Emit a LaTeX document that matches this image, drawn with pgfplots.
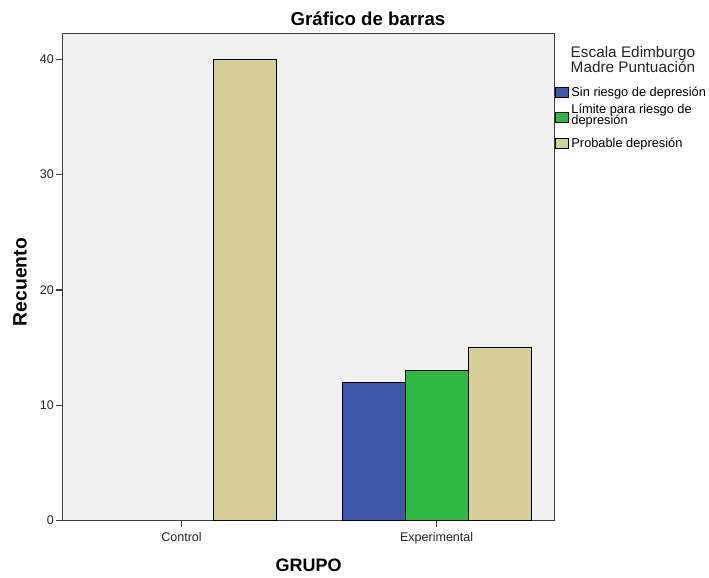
\documentclass[border=0pt]{standalone}
\usepackage{pgfplots}
\pgfplotsset{compat=1.18}
\usepackage{fontspec}
\setmainfont{Liberation Sans}
\definecolor{spssblue}{RGB}{61,88,171}
\definecolor{spssgreen}{RGB}{45,184,67}
\definecolor{spsstan}{RGB}{213,206,153}
\definecolor{plotbg}{RGB}{240,240,240}
% legend squares
\pgfplotsset{
    sqhigh/.style={legend image code/.code={\draw[##1, draw=black, line width=0.6pt] (0pt,-3.5pt) rectangle (9.75pt,4pt);}},
    sqlow/.style={legend image code/.code={\draw[##1, draw=black, line width=0.6pt] (0pt,-5.25pt) rectangle (9.75pt,2.25pt);}},
    sqtan/.style={legend image code/.code={\draw[##1, draw=black, line width=0.6pt] (0pt,-5.75pt) rectangle (9.75pt,1.75pt);}},
}
\begin{document}
\begin{tikzpicture}
% page = 709 x 577 px, 1 px = 0.75pt
\useasboundingbox (-47pt,-42.4pt) rectangle (484.7pt,390.4pt);
\begin{axis}[
    at={(0,0)}, anchor=south west,
    scale only axis,
    width=369pt, height=365.25pt,
    xmin=-0.466, xmax=1.463,
    ymin=0, ymax=42.24,
    clip=false,
    axis background/.style={fill=plotbg},
    axis line style={black!75, line width=1.1pt},
    xtick={0,1}, xticklabels={Control, Experimental},
    ytick={0,10,20,30,40},
    tick style={black!75, line width=0.9pt},
    major tick length=5pt,
    tick align=outside,
    xtick pos=bottom, ytick pos=left,
    ticklabel style={font=\fontsize{9.4}{10}\selectfont, text=black!85},
    yticklabel style={inner xsep=1.5pt},
    /pgf/number format/assume math mode=true,
    xlabel={\textbf{GRUPO}},
    ylabel={\textbf{Recuento}},
    xlabel style={font=\fontsize{13.5}{15}\selectfont,
        at={(axis description cs:0.5,-0.0914)}, anchor=center},
    ylabel style={font=\fontsize{14.5}{16}\selectfont,
        at={(axis description cs:-0.0868,0.4897)}, anchor=center},
    title={\textbf{Gráfico de barras}},
    title style={font=\fontsize{14}{16}\selectfont,
        at={(axis description cs:0.6205,1.014)}, anchor=center},
    ybar, bar width=0.247,
    legend style={at={(axis description cs:1,0.8898)}, anchor=north west,
        draw=none, fill=none, inner sep=0pt,
        font=\fontsize{9.6}{9}\selectfont, row sep=3.5pt, column sep=2pt,
        nodes={align=left, inner sep=0pt}},
    legend cell align=left,
    sqhigh,
]
\addplot[fill=spssblue, draw=black, line width=0.7pt, bar shift=-0.247] coordinates {(1,12)};
\addplot[fill=spssgreen, draw=black, line width=0.7pt, bar shift=0, sqlow] coordinates {(1,13)};
\addplot[fill=spsstan, draw=black, line width=0.7pt, bar shift=0.247, sqtan] coordinates {(0,40) (1,15)};
\legend{Sin riesgo de depresión, {Límite para riesgo de\\[-1.2pt]depresión}, {\rule{0pt}{12pt}Probable depresión}}
\node[align=center, font=\fontsize{11.5}{11.25}\selectfont, text=black!85]
    at (axis description cs:1.159,0.947) {Escala Edimburgo\\Madre Puntuación};
\end{axis}
\end{tikzpicture}
\end{document}
